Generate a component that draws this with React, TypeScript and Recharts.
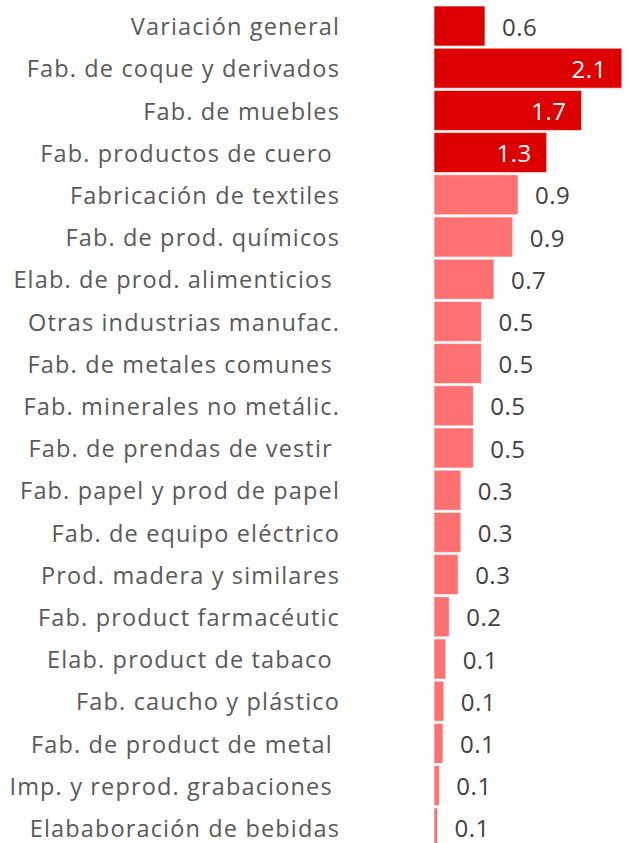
import { Bar, BarChart, Cell, LabelList, XAxis, YAxis } from "recharts"

// categories, top to bottom
const categories = [
  "Variación general",
  "Fab. de coque y derivados",
  "Fab. de muebles",
  "Fab. productos de cuero ",
  "Fabricación de textiles",
  "Fab. de prod. químicos",
  "Elab. de prod. alimenticios ",
  "Otras industrias manufac.",
  "Fab. de metales comunes ",
  "Fab. minerales no metálic.",
  "Fab. de prendas de vestir ",
  "Fab. papel y prod de papel",
  "Fab. de equipo eléctrico",
  "Prod. madera y similares",
  "Fab. product farmacéutic",
  "Elab. product de tabaco ",
  "Fab. caucho y plástico",
  "Fab. de product de metal ",
  "Imp. y reprod. grabaciones ",
  "Elababoración de bebidas",
]

// bar lengths
const values = [
  0.57, 2.1, 1.65, 1.26, 0.94, 0.88, 0.67, 0.53, 0.53, 0.44,
  0.44, 0.3, 0.3, 0.27, 0.17, 0.13, 0.11, 0.1, 0.06, 0.04,
]

// printed labels
const valueLabels = [
  "0.6", "2.1", "1.7", "1.3", "0.9", "0.9", "0.7", "0.5", "0.5", "0.5",
  "0.5", "0.3", "0.3", "0.3", "0.2", "0.1", "0.1", "0.1", "0.1", "0.1",
]

// rows highlighted in dark red, with the label inside the bar
const highlighted = [true, true, true, true, false, false, false, false, false, false,
  false, false, false, false, false, false, false, false, false, false]
const labelInside = [false, true, true, true, false, false, false, false, false, false,
  false, false, false, false, false, false, false, false, false, false]

const DARK = "#dd0000"
const LIGHT = "#ff7070"
const FONT = "'Open Sans', sans-serif"

const data = categories.map((name, i) => ({
  name,
  value: values[i],
  label: valueLabels[i],
  dark: highlighted[i],
  inside: labelInside[i],
}))

const CategoryTick = (props: any) => {
  const { x, y, payload } = props
  return (
    <text
      x={x}
      y={y}
      textAnchor="end"
      dominantBaseline="central"
      fill="#595959"
      fontSize={23.5}
      letterSpacing={1.15}
      fontFamily={FONT}
      style={{ whiteSpace: "pre" }}
    >
      {payload.value}
    </text>
  )
}

const ValueLabel = (props: any) => {
  const { x, y, width, height, index } = props
  const row = data[index]
  const cy = y + height / 2
  if (row.inside) {
    return (
      <text x={x + width - 15} y={cy} textAnchor="end" dominantBaseline="central"
        fill="#ffffff" fontSize={24} letterSpacing={0.5} fontFamily={FONT}>
        {row.label}
      </text>
    )
  }
  return (
    <text x={x + width + 17} y={cy} textAnchor="start" dominantBaseline="central"
      fill="#404040" fontSize={24} letterSpacing={0.5} fontFamily={FONT}>
      {row.label}
    </text>
  )
}

export default function App() {
  return (
    <div style={{ position: "absolute", left: 0, top: 0, width: 629, height: 843, overflow: "hidden", background: "#fff" }}>
      <BarChart
        width={629}
        height={849}
        data={data}
        layout="vertical"
        margin={{ top: 5, right: 0, bottom: 0, left: 0 }}
        barCategoryGap={1}
      >
        <XAxis type="number" domain={[0, 2.18]} hide />
        <YAxis
          type="category"
          dataKey="name"
          width={434}
          axisLine={false}
          tickLine={false}
          tickSize={0}
          tickMargin={94}
          interval={0}
          tick={<CategoryTick />}
        />
        <Bar dataKey="value" isAnimationActive={false} stroke="#ffffff" strokeWidth={0.6}>
          {data.map((d, i) => (
            <Cell key={i} fill={d.dark ? DARK : LIGHT} />
          ))}
          <LabelList dataKey="label" content={<ValueLabel />} />
        </Bar>
      </BarChart>
    </div>
  )
}
